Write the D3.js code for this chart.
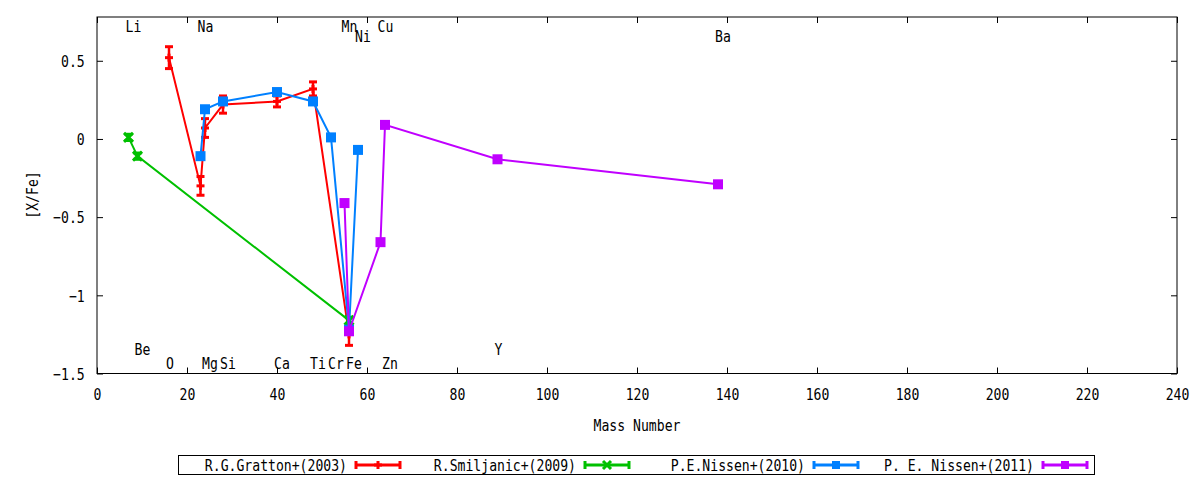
<!DOCTYPE html>
<html>
<head>
<meta charset="utf-8">
<script src="https://cdn.jsdelivr.net/npm/d3@7"></script>
<style>
  body { margin: 0; background: #fff; }
  svg text { font-family: "DejaVu Sans Mono", monospace; font-size: 16px; fill: #000; }
</style>
</head>
<body>
<svg id="chart" width="1200" height="480"></svg>
<script>
// element labels along the plot (name, mass number, y position in [X/Fe])
var elemNames = ['Li', 'Na', 'Mn', 'Cu', 'Ni', 'Ba', 'Be', 'Y', 'O', 'Mg', 'Si', 'Ca', 'Ti', 'Cr', 'Fe', 'Zn'];
var elemMass  = [7, 23, 55, 63, 58, 138, 9, 89, 16, 24, 28, 40, 48, 52, 56, 64];
var elemLabelY = [0.72, 0.72, 0.72, 0.72, 0.655, 0.655, -1.345, -1.345,
                  -1.435, -1.435, -1.435, -1.435, -1.435, -1.435, -1.435, -1.435];

// R.G.Gratton+(2003)
var grattonX   = [16, 23, 24, 28, 40, 48, 56];
var grattonY   = [0.52, -0.30, 0.07, 0.22, 0.24, 0.32, -1.25];
var grattonErr = [0.07, 0.06, 0.06, 0.055, 0.035, 0.045, 0.07];

// R.Smiljanic+(2009)
var smiljanicX   = [7, 9, 56];
var smiljanicY   = [0.01, -0.11, -1.16];
var smiljanicErr = [0.02, 0.02, 0.02];

// P.E.Nissen+(2010)
var nissen10X = [23, 24, 28, 40, 48, 52, 56, 58];
var nissen10Y = [-0.11, 0.19, 0.24, 0.30, 0.24, 0.01, -1.22, -0.07];

// P. E. Nissen+(2011)
var nissen11X = [55, 56, 63, 64, 89, 138];
var nissen11Y = [-0.41, -1.23, -0.66, 0.09, -0.13, -0.29];

var xTicks = d3.range(0, 241, 20);
var yTicks = [0.5, 0, -0.5, -1, -1.5];

var SX = 0.82; // horizontal squeeze of the mono font, the reference font is narrow

var series = [
  { name: 'R.G.Gratton+(2003)',  color: '#ff0000', mark: 'plus',   x: grattonX,   y: grattonY,   err: grattonErr },
  { name: 'R.Smiljanic+(2009)',  color: '#00c000', mark: 'cross',  x: smiljanicX, y: smiljanicY, err: smiljanicErr },
  { name: 'P.E.Nissen+(2010)',   color: '#0080ff', mark: 'square', x: nissen10X,  y: nissen10Y,  err: null },
  { name: 'P. E. Nissen+(2011)', color: '#c000ff', mark: 'square', x: nissen11X,  y: nissen11Y,  err: null }
];

var svg = d3.select('#chart');
var plotLeft = 97, plotRight = 1177, plotTop = 17, plotBottom = 373.5;

var x = d3.scaleLinear().domain([0, 240]).range([plotLeft, plotRight]);
var y = d3.scaleLinear().domain([-1.5, 0.78]).range([plotBottom, plotTop]);

// squeezed text helper
function label(parent, px, py, str, anchor) {
  return parent.append('text')
      .attr('transform', `translate(${px},${py}) scale(${SX},1)`)
      .attr('text-anchor', anchor || 'start')
      .attr('dy', '0.36em')
      .text(str);
}

function drawMark(g, kind, cx, cy, color, size) {
  var h = size / 2;
  if (kind === 'plus') {
    g.append('line').attr('x1', cx - h).attr('x2', cx + h).attr('y1', cy).attr('y2', cy)
      .attr('stroke', color).attr('stroke-width', 3);
    g.append('line').attr('x1', cx).attr('x2', cx).attr('y1', cy - h).attr('y2', cy + h)
      .attr('stroke', color).attr('stroke-width', 3);
  } else if (kind === 'cross') {
    g.append('path').attr('d', `M${cx - h},${cy - h}L${cx + h},${cy + h}M${cx - h},${cy + h}L${cx + h},${cy - h}`)
      .attr('stroke', color).attr('stroke-width', 3).attr('fill', 'none');
  } else {
    g.append('rect').attr('x', cx - h).attr('y', cy - h).attr('width', size).attr('height', size)
      .attr('fill', color);
  }
}

// axes, ticks pointing inward and mirrored like gnuplot
var gx = svg.append('g').attr('transform', `translate(0,${plotBottom})`)
    .call(d3.axisBottom(x).tickValues(xTicks).tickSizeInner(-6).tickSizeOuter(0));
gx.selectAll('text').attr('y', 21).attr('dy', '0.36em')
    .attr('transform', `scale(${SX},1)`).style('font-size', '16px').style('font-family', '"DejaVu Sans Mono"');

svg.append('g').attr('transform', `translate(0,${plotTop})`)
    .call(d3.axisTop(x).tickValues(xTicks).tickSizeInner(-6).tickSizeOuter(0).tickFormat(''));

var gy = svg.append('g').attr('transform', `translate(${plotLeft},0)`)
    .call(d3.axisLeft(y).tickValues(yTicks).tickSizeInner(-6).tickSizeOuter(0).tickFormat(d3.format('')));
gy.selectAll('text').attr('x', -15).attr('dy', '0.36em')
    .attr('transform', `scale(${SX},1)`).style('font-size', '16px').style('font-family', '"DejaVu Sans Mono"');

svg.append('g').attr('transform', `translate(${plotRight},0)`)
    .call(d3.axisRight(y).tickValues(yTicks).tickSizeInner(-6).tickSizeOuter(0).tickFormat(''));

svg.selectAll('.domain').remove();
svg.selectAll('.tick line').attr('stroke', '#000');

svg.append('rect')
    .attr('x', plotLeft).attr('y', plotTop).attr('width', plotRight - plotLeft).attr('height', plotBottom - plotTop)
    .attr('fill', 'none').attr('stroke', '#000').attr('stroke-width', 1);

label(svg, (plotLeft + plotRight) / 2, 425, 'Mass Number', 'middle');
svg.append('text')
    .attr('transform', `translate(32,195) rotate(-90) scale(${SX},1)`)
    .attr('text-anchor', 'middle').attr('dy', '0.36em')
    .text('[X/Fe]');

// element names
elemNames.forEach(function (n, i) {
  label(svg, x(elemMass[i]) - 3, y(elemLabelY[i]), n, 'start');
});

// data series
var line = d3.line().x(function (d) { return x(d[0]); }).y(function (d) { return y(d[1]); });

series.forEach(function (s) {
  var g = svg.append('g');
  var pts = s.x.map(function (v, i) { return [v, s.y[i]]; });
  g.append('path').attr('d', line(pts))
      .attr('fill', 'none').attr('stroke', s.color).attr('stroke-width', 2);

  pts.forEach(function (p, i) {
    var cx = x(p[0]), cy = y(p[1]);
    if (s.err) {
      var y0 = y(p[1] - s.err[i]), y1 = y(p[1] + s.err[i]);
      g.append('line').attr('x1', cx).attr('x2', cx).attr('y1', y0).attr('y2', y1)
          .attr('stroke', s.color).attr('stroke-width', 2.5);
      [y0, y1].forEach(function (yy) {
        g.append('line').attr('x1', cx - 4).attr('x2', cx + 4).attr('y1', yy).attr('y2', yy)
            .attr('stroke', s.color).attr('stroke-width', 3);
      });
    }
    drawMark(g, s.mark, cx, cy, s.color, s.mark === 'square' ? 10 : (s.mark === 'cross' ? 9 : 8));
  });
});

// legend
var legend = svg.append('g');
legend.append('rect').attr('x', 178.5).attr('y', 455.5).attr('width', 916).attr('height', 19)
    .attr('fill', '#fff').attr('stroke', '#000').attr('stroke-width', 1);

series.forEach(function (s, i) {
  var x0 = 356 + i * 229, x1 = x0 + 44, ly = 465;
  label(legend, x0 - 9, ly, s.name, 'end');
  legend.append('line').attr('x1', x0).attr('x2', x1).attr('y1', ly).attr('y2', ly)
      .attr('stroke', s.color).attr('stroke-width', 3);
  [x0, x1].forEach(function (xx) {
    legend.append('line').attr('x1', xx).attr('x2', xx).attr('y1', ly - 4).attr('y2', ly + 4)
        .attr('stroke', s.color).attr('stroke-width', 3);
  });
  drawMark(legend, s.mark, (x0 + x1) / 2, ly, s.color, 8);
});
</script>
</body>
</html>
